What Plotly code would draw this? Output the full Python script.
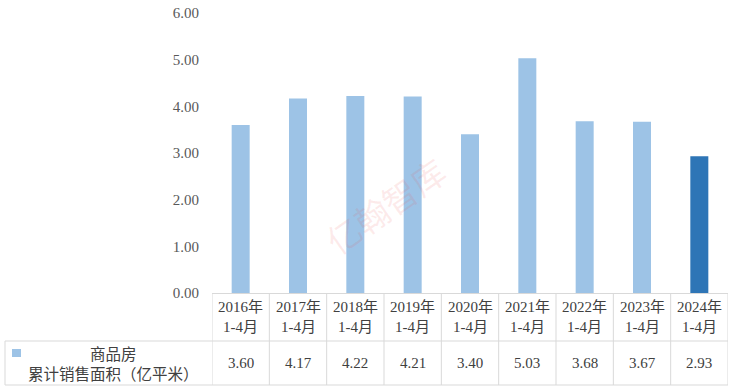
import plotly.graph_objects as go

years = ["2016年", "2017年", "2018年", "2019年", "2020年", "2021年", "2022年", "2023年", "2024年"]
period = "1-4月"
values = [3.60, 4.17, 4.22, 4.21, 3.40, 5.03, 3.68, 3.67, 2.93]
series_name_line1 = "商品房"
series_name_line2 = "累计销售面积（亿平米）"
y_ticks = [0, 1, 2, 3, 4, 5, 6]

light = "#9dc3e6"
dark = "#2e75b6"
colors = [light] * (len(values) - 1) + [dark]

W, H = 733, 392
L, R, T, B = 212, 5, 13, 99
pw, ph = W - L - R, H - T - B

def px(X):
    return (X - L) / pw

def py(Y):
    return (H - B - Y) / ph

cats = list(range(len(years)))
serif = "Liberation Serif, Noto Sans CJK SC, serif"
cjk = "Noto Sans CJK SC, serif"
txt = "#404040"
grid = "#d9d9d9"

fig = go.Figure(go.Bar(x=cats, y=values, marker=dict(color=colors, line=dict(width=0)),
                       hoverinfo="y"))

shapes = []
# table borders
for Y in (341, 385):
    shapes.append(dict(type="line", xref="paper", yref="paper", x0=px(5), x1=1, y0=py(Y), y1=py(Y),
                       line=dict(color=grid, width=1)))
shapes.append(dict(type="line", xref="paper", yref="paper", x0=px(5), x1=px(5), y0=py(341), y1=py(385),
                   line=dict(color=grid, width=1)))
for i in range(len(years) + 1):
    shapes.append(dict(type="line", xref="x", yref="paper", x0=i - 0.5, x1=i - 0.5, y0=0, y1=py(385),
                       line=dict(color=grid, width=1)))
# legend key
shapes.append(dict(type="rect", xref="paper", yref="paper", x0=px(12), x1=px(21), y0=py(357), y1=py(349),
                   fillcolor=light, line=dict(width=0)))

ann = []
# faint watermark (drawn first, behind)
ann.append(dict(x=px(385), xref="paper", y=py(205), yref="paper", text="亿翰智库", showarrow=False,
                textangle=-35, font=dict(family=cjk, size=34, color="rgba(235,90,90,0.12)"),
                xanchor="center", yanchor="middle"))

for i, (yr, v) in enumerate(zip(years, values)):
    ann.append(dict(x=i, xref="x", y=py(317), yref="paper", text=f"{yr}<br>{period}", showarrow=False,
                    align="center", font=dict(family=serif, size=15, color=txt),
                    xanchor="center", yanchor="middle"))
    ann.append(dict(x=i, xref="x", y=py(363), yref="paper", text=f"{v:.2f}", showarrow=False,
                    font=dict(family=serif, size=15, color=txt), xanchor="center", yanchor="middle"))
ann.append(dict(x=px(113), xref="paper", y=py(363), yref="paper",
                text=f"{series_name_line1}<br>{series_name_line2}", showarrow=False, align="center",
                font=dict(family=cjk, size=15.5, color=txt), xanchor="center", yanchor="middle"))

fig.update_layout(
    width=W, height=H,
    margin=dict(l=L, r=R, t=T, b=B),
    paper_bgcolor="white", plot_bgcolor="white",
    showlegend=False,
    bargap=0.686,
    xaxis=dict(range=[-0.5, len(years) - 0.5], showticklabels=False, showgrid=False, zeroline=False,
               showline=True, linecolor=grid, linewidth=1, ticks="", fixedrange=True),
    yaxis=dict(range=[0, 6], tickvals=y_ticks, tickformat=".2f", showgrid=False, zeroline=False,
               showline=False, ticks="", ticklabelstandoff=12,
               tickfont=dict(family=serif, size=15, color="#595959"), fixedrange=True),
    shapes=shapes,
    annotations=ann,
)

fig.write_html("out.html", config={"displayModeBar": False},
               post_script="document.body.style.margin='0';document.body.style.padding='0';")
